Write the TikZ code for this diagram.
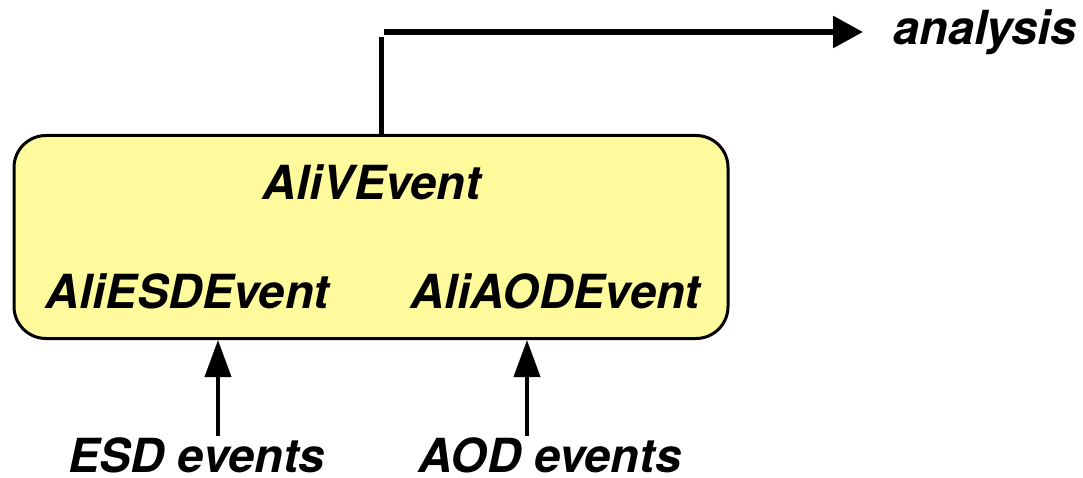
\documentclass[tikz,border=0pt]{standalone}
\usepackage{fontspec}
\setmainfont{TeX Gyre Heros}
\usetikzlibrary{arrows.meta}
\definecolor{boxfill}{RGB}{255,250,155}
\tikzset{
  lbl/.style={font=\fontsize{47}{50}\selectfont\bfseries\itshape, inner sep=0pt, anchor=base},
  arr/.style={line width=4pt, -{Triangle[length=37pt,width=26pt]}},
  toparr/.style={line width=6pt, -{Triangle[length=30pt,width=31pt]}},
}
\begin{document}
\begin{tikzpicture}[x=1pt,y=-1pt]
\useasboundingbox (0,0) rectangle (1083,478);
\node[draw=black, line width=3pt, fill=boxfill, rounded corners=32pt,
      minimum width=714pt, minimum height=203pt, inner sep=0pt] (box) at (371,237) {};
\node[lbl] (vev) at (372,200) {AliVEvent};
\node[lbl] (esd) at (187.5,308) {AliESDEvent};
\node[lbl] (aod) at (555.5,308) {AliAODEvent};
\node[lbl] (esdin) at (196.5,472) {ESD events};
\node[lbl] (aodin) at (550,472) {AOD events};
\node[lbl, anchor=base west] (ana) at (893,45) {analysis};
\coordinate (e1) at (218,436);
\coordinate (a1) at (527,436);
\coordinate (up) at (381.5,37);
\coordinate (start) at (384,32);
\coordinate (tip) at (863,32);
\draw[arr] (e1) -- (e1 |- box.south);
\draw[arr] (a1) -- (a1 |- box.south);
\draw[line width=5pt] (up |- box.north) -- (up);
\draw[toparr] (start) -- (tip);
\end{tikzpicture}
\end{document}
